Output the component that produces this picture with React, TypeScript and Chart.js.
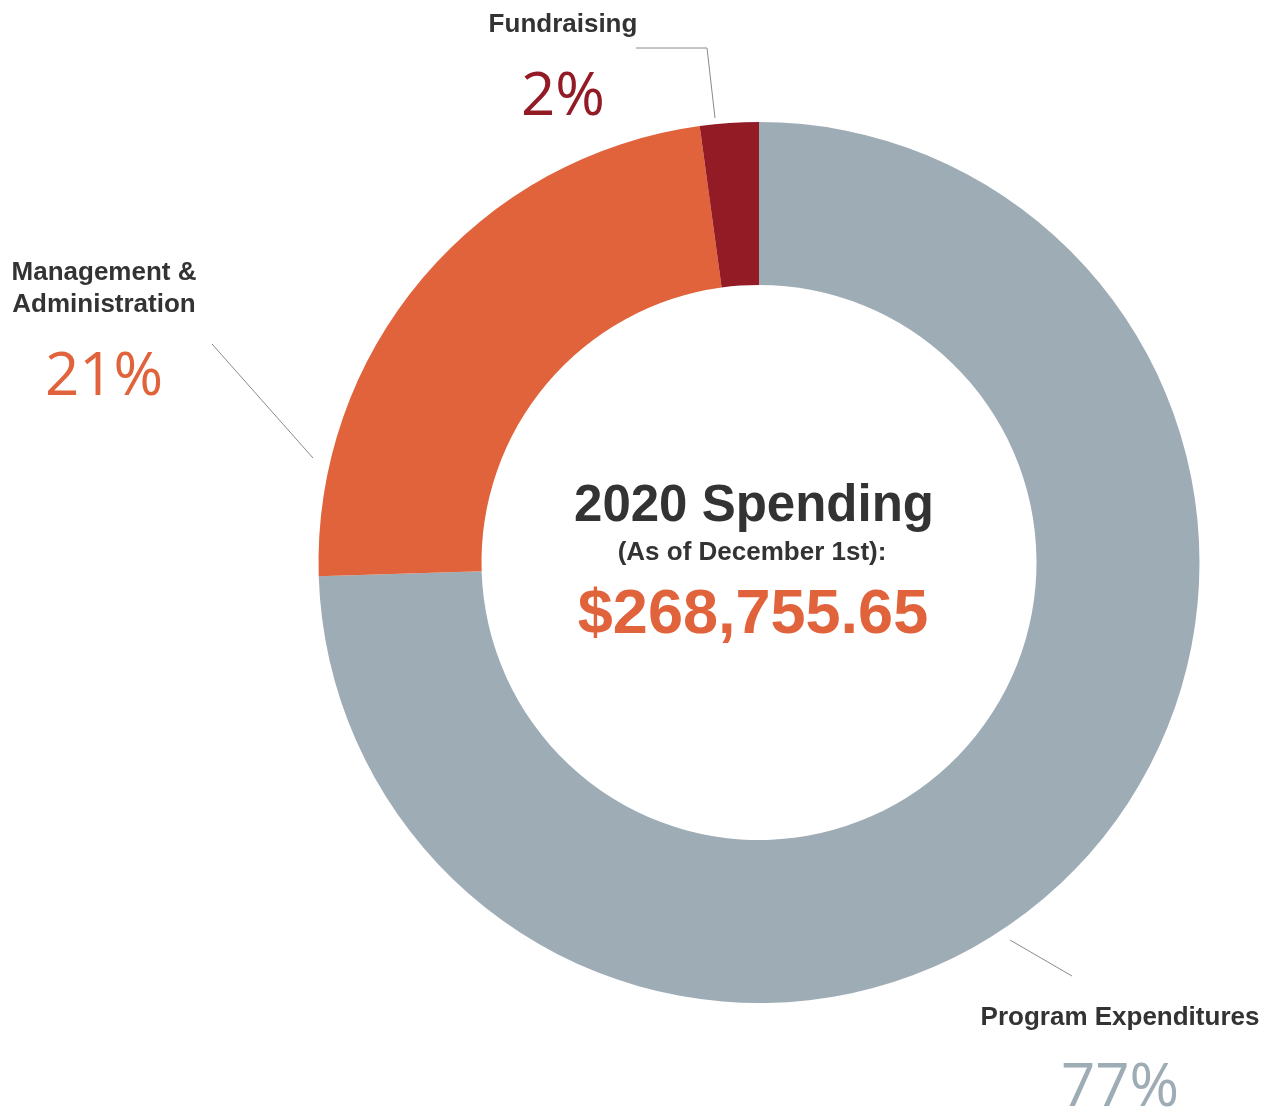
import React, { useEffect, useRef } from 'react';
import { Chart, registerables } from 'chart.js';
Chart.register(...registerables);

// slices, clockwise from 12 o'clock
const categories = ['Program Expenditures', 'Management & Administration', 'Fundraising'];
const amounts = [74.5, 23.35, 2.15];
const percentLabels = ['77%', '21%', '2%'];
const sliceColors = ['#9eacb6', '#e0633b', '#931b26'];

const titleText = '2020 Spending';
const subtitleText = '(As of December 1st):';
const totalText = '$268,755.65';

const BOLD = '"Liberation Sans", Arial, Helvetica, sans-serif';
const LIGHT = '"Open Sans", Roboto, sans-serif';
const DARK = '#333333';

// label layout: name lines, percent text, leader line
const labelLayout = [
  { x: 1120, nameY: [1025], pctY: 1106, line: [[1010, 940], [1072, 976]] },
  { x: 104, nameY: [280, 312], pctY: 395, line: [[212, 344], [313, 458]] },
  { x: 563, nameY: [32], pctY: 115, line: [[636, 48], [707, 48], [715, 118]] },
];
const nameLines = [['Program Expenditures'], ['Management &', 'Administration'], ['Fundraising']];

const labelsPlugin = {
  id: 'spendingLabels',
  afterDraw(chart: Chart) {
    const ctx = chart.ctx;
    ctx.save();
    ctx.textAlign = 'center';
    ctx.textBaseline = 'alphabetic';

    labelLayout.forEach((l, i) => {
      ctx.strokeStyle = '#8a8a8a';
      ctx.lineWidth = 1;
      ctx.beginPath();
      l.line.forEach(([px, py], j) => (j === 0 ? ctx.moveTo(px, py) : ctx.lineTo(px, py)));
      ctx.stroke();

      ctx.fillStyle = DARK;
      ctx.font = `bold 26px ${BOLD}`;
      nameLines[i].forEach((t, j) => ctx.fillText(t, l.x, l.nameY[j]));

      ctx.fillStyle = sliceColors[i];
      ctx.font = `400 60px ${LIGHT}`;
      ctx.fillText(percentLabels[i], l.x, l.pctY);
    });

    // centre text
    ctx.fillStyle = DARK;
    ctx.font = `bold 51px ${BOLD}`;
    ctx.fillText(titleText, 754, 521);
    ctx.font = `bold 26px ${BOLD}`;
    ctx.fillText(subtitleText, 752, 560);
    ctx.fillStyle = sliceColors[1];
    ctx.font = `bold 63px ${BOLD}`;
    ctx.fillText(totalText, 753, 633);
    ctx.restore();
  },
};

const App: React.FC = () => {
  const canvasRef = useRef<HTMLCanvasElement>(null);

  useEffect(() => {
    if (!canvasRef.current) return;
    const chart = new Chart(canvasRef.current, {
      type: 'doughnut',
      data: {
        labels: categories,
        datasets: [{
          data: amounts,
          backgroundColor: sliceColors,
          borderWidth: 0,
          hoverBorderWidth: 0,
          hoverOffset: 0,
        }],
      },
      options: {
        animation: false,
        responsive: true,
        maintainAspectRatio: false,
        cutout: '63%',
        layout: { padding: { left: 318.5, right: 67.5, top: 122, bottom: 109 } },
        plugins: { legend: { display: false }, tooltip: { enabled: false } },
        events: [],
      },
      plugins: [labelsPlugin],
    });
    return () => chart.destroy();
  }, []);

  return (
    <div style={{ position: 'fixed', left: 0, top: 0, width: 1267, height: 1112, background: '#fff' }}>
      <canvas ref={canvasRef}></canvas>
    </div>
  );
};

export default App;
